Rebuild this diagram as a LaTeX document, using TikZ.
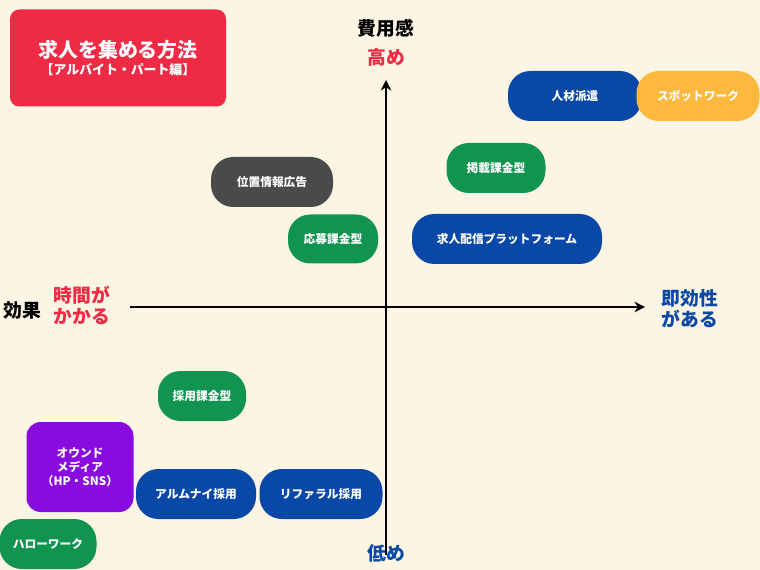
\documentclass[tikz,border=0pt]{standalone}
\usepackage{fontspec}
\setmainfont{Noto Sans CJK JP}
\usetikzlibrary{arrows.meta}
\definecolor{bg}{HTML}{FDF5E3}
\definecolor{cred}{HTML}{EE2A45}
\definecolor{cblue}{HTML}{0A48A8}
\definecolor{cgreen}{HTML}{119450}
\definecolor{cgray}{HTML}{4A4A4A}
\definecolor{cyellow}{HTML}{FDB93E}
\definecolor{cpurple}{HTML}{8A0BE0}
\tikzset{
 pill/.style={rounded corners=19pt,text=white,font=\bfseries\fontsize{10}{12}\selectfont,align=center,inner sep=0pt},
 axlbl/.style={font=\bfseries\fontsize{16}{18}\selectfont,align=center},
}
\begin{document}
\begin{tikzpicture}[x=0.03cm,y=-0.03cm]
\fill[bg] (0,0) rectangle (760,570);
\useasboundingbox (0,0) rectangle (760,570);
% title
\node[fill=cred,rounded corners=8pt,minimum width=216*0.03cm,minimum height=97*0.03cm,text=white,align=center] (title) at (118,58)
 {{\bfseries\fontsize{17}{20}\selectfont 求人を集める方法}\\[2pt]{\bfseries\fontsize{11}{13}\selectfont 【アルバイト・パート編】}};
% axes
\coordinate (vb) at (386,555); \coordinate (vt) at (386,80);
\coordinate (hl) at (130,307); \coordinate (hr) at (645,307);
\draw[line width=2.2pt,-{Stealth[length=9pt,width=9pt]}] (vb)--(vt);
\draw[line width=2.2pt,-{Stealth[length=9pt,width=9pt]}] (hl)--(hr);
\node[axlbl] (cost) at (386,28) {費用感};
\node[axlbl,text=cred] (high) at (386,57) {高め};
\node[axlbl,text=cblue] (low) at (386,553) {低め};
\node[axlbl] (eff) at (22,310) {効果};
\node[axlbl,text=cred] (slow) at (82,305) {時間が\\かかる};
\node[axlbl,text=cblue] (fast) at (690,309) {即効性\\がある};
% pills
\newcommand{\pillnode}[7]{\node[pill,fill=#2,minimum width=#5*0.03cm,minimum height=#6*0.03cm] (#1) at (#3,#4) {#7};}
\pillnode{haken}{cblue}{575}{96}{134}{50}{人材派遣}
\pillnode{spot}{cyellow}{698}{96}{123}{50}{スポットワーク}
\pillnode{keisai}{cgreen}{496}{168}{99}{50}{掲載課金型}
\pillnode{ichi}{cgray}{272}{182}{122}{50}{位置情報広告}
\pillnode{oubo}{cgreen}{333}{239}{90}{49}{応募課金型}
\pillnode{haishin}{cblue}{507}{239}{190}{50}{求人配信プラットフォーム}
\pillnode{saiyo}{cgreen}{202}{396}{88}{50}{採用課金型}
\node[pill,fill=cpurple,rounded corners=12pt,minimum width=107*0.03cm,minimum height=90*0.03cm] (owned) at (80,467) {オウンド\\メディア\\（HP・SNS）};
\pillnode{alumni}{cblue}{196}{494}{120}{50}{アルムナイ採用}
\pillnode{referral}{cblue}{321}{494}{123}{50}{リファラル採用}
\pillnode{hello}{cgreen}{48}{544}{97}{50}{ハローワーク}
\end{tikzpicture}
\end{document}
